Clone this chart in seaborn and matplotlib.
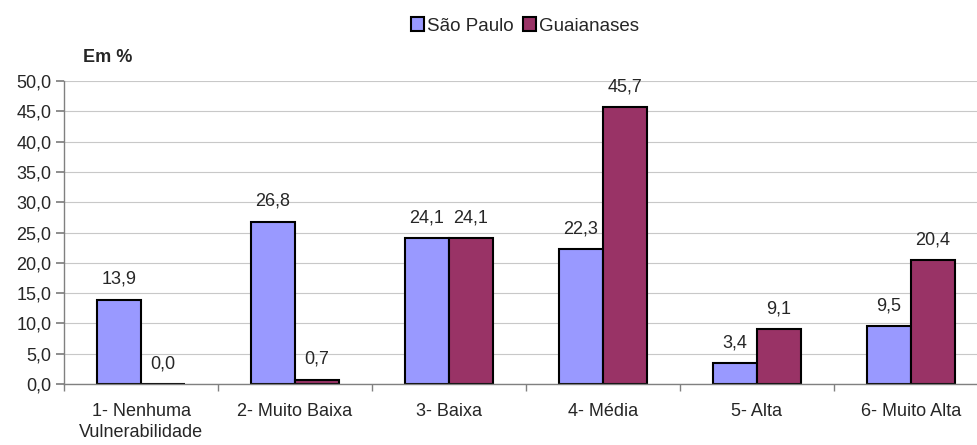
import matplotlib
matplotlib.use("Agg")
import matplotlib.pyplot as plt
import seaborn as sns
import pandas as pd
import numpy as np

categories = ["1- Nenhuma\nVulnerabilidade", "2- Muito Baixa", "3- Baixa", "4- Média", "5- Alta", "6- Muito Alta"]
sao_paulo = [13.9, 26.8, 24.1, 22.3, 3.4, 9.5]
guaianases = [0.0, 0.7, 24.1, 45.7, 9.1, 20.4]
series = ["São Paulo", "Guaianases"]
yticks = [0, 5, 10, 15, 20, 25, 30, 35, 40, 45, 50]

sns.set_theme(style="white")
plt.rcParams['font.family'] = ['Liberation Sans', 'DejaVu Sans']

FS = 13

df = pd.DataFrame({
    "cat": categories * 2,
    "serie": [series[0]] * len(categories) + [series[1]] * len(categories),
    "val": sao_paulo + guaianases,
})

fig = plt.figure(figsize=(9.77, 4.45), dpi=100)
ax = fig.add_axes([64 / 977, 1 - 384 / 445, 924 / 977, 303 / 445])

sns.barplot(data=df, x="cat", y="val", hue="serie", order=categories, hue_order=series,
            palette=["#9999FF", "#993366"], saturation=1, edgecolor="black", linewidth=1.5,
            width=0.572, gap=0, ax=ax, legend=True)

ax.set_xlim(-0.5, len(categories) - 0.5)
ax.set_ylim(0, 50)
ax.set_yticks(yticks)
ax.set_yticklabels([f"{v:.1f}".replace(".", ",") for v in yticks], fontsize=FS)
ax.yaxis.grid(True, color="#c8c8c8", linewidth=0.8)
ax.set_axisbelow(True)
ax.set_xlabel("")
ax.set_ylabel("")

ax.set_xticks(range(len(categories)))
ax.set_xticklabels(categories, fontsize=FS, linespacing=1.3)
ax.tick_params(axis="x", which="major", length=0, pad=14)
ax.set_xticks(np.arange(-0.5, len(categories) + 0.5, 1), minor=True)
ax.tick_params(axis="x", which="minor", length=5, color="#808080", direction="out", bottom=True)
ax.tick_params(axis="y", length=6, color="#808080", direction="out", left=True, pad=3)

for s in ["top", "right"]:
    ax.spines[s].set_visible(False)
for s in ["left", "bottom"]:
    ax.spines[s].set_color("#808080")
    ax.spines[s].set_linewidth(1)

for cont in ax.containers:
    labels = [f"{b.get_height():.1f}".replace(".", ",") for b in cont]
    ax.bar_label(cont, labels=labels, padding=8.5, fontsize=FS)

handles, labs = ax.get_legend_handles_labels()
fig.legend(handles, labs, loc="center", bbox_to_anchor=(525 / 977, 1 - 26 / 445), ncol=2, frameon=False,
           fontsize=13.5, handlelength=0.7, handleheight=0.7, handletextpad=0.15, columnspacing=0.5,
           borderaxespad=0, borderpad=0)
if ax.get_legend():
    ax.get_legend().remove()

fig.text(108 / 977, 1 - 58 / 445, "Em %", fontsize=FS, fontweight="bold", ha="center", va="center")

fig.savefig("out.png", dpi=100)
